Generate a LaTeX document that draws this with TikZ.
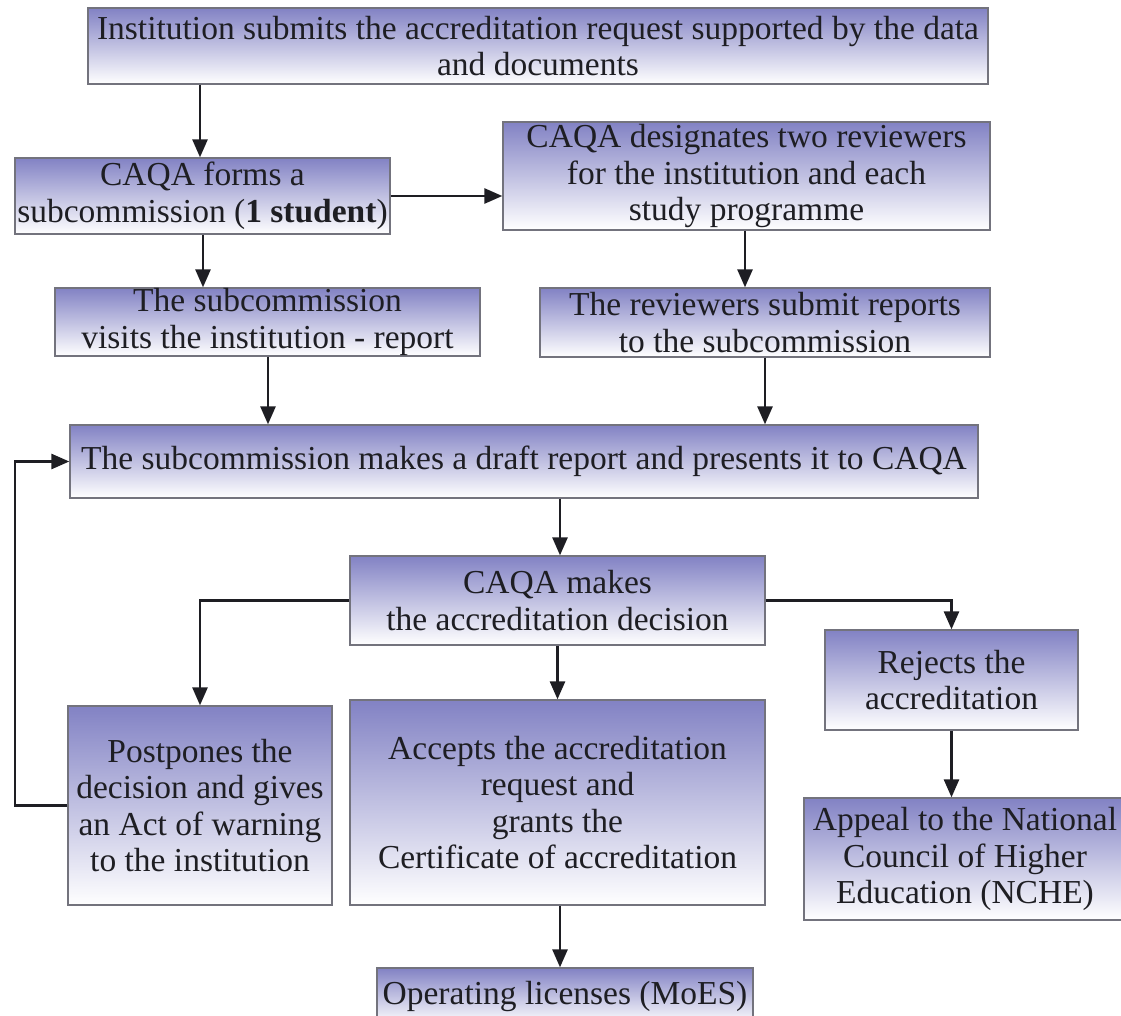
\documentclass[tikz,border=0pt]{standalone}
\usepackage{fontspec}
\setmainfont{Liberation Serif}
\usetikzlibrary{arrows.meta}
\definecolor{boxtop}{RGB}{130,130,196}
\definecolor{boxline}{RGB}{115,115,125}
\definecolor{ink}{RGB}{30,30,35}
\tikzset{
  box/.style={draw=boxline, line width=1.3pt, top color=boxtop, bottom color=white,
    inner sep=0pt, align=center, text=ink, font=\fontsize{33.5}{36.5}\selectfont},
  arr/.style={draw=ink, line width=2.7pt, -{Triangle[length=18pt,width=15pt]}}
}
\begin{document}
\begin{tikzpicture}[x=1pt,y=1pt]
\useasboundingbox (0,0) rectangle (1121,-1016);
\clip (0,0) rectangle (1121,-1016);
\node[box, minimum width=900, minimum height=76] (b1) at (538,-46)
  {Institution submits the accreditation request supported by the data\\and documents};
\node[box, minimum width=375, minimum height=76] (b2) at (202.5,-196)
  {CAQA forms a\\subcommission (\textbf{1 student})};
\node[box, minimum width=487, minimum height=108] (b3) at (746.5,-176)
  {CAQA designates two reviewers\\for the institution and each\\study programme};
\node[box, minimum width=425, minimum height=68] (b4) at (267.5,-322)
  {The subcommission\\visits the institution - report};
\node[box, minimum width=450, minimum height=69] (b5) at (765,-322.5)
  {The reviewers submit reports\\to the subcommission};
\node[box, minimum width=908, minimum height=73] (b6) at (524,-461.5)
  {The subcommission makes a draft report and presents it to CAQA};
\node[box, minimum width=415, minimum height=89] (b7) at (557.5,-600.5)
  {CAQA makes\\the accreditation decision};
\node[box, minimum width=264, minimum height=199] (b8) at (200,-805.5)
  {Postpones the\\decision and gives\\an Act of warning\\to the institution};
\node[box, minimum width=415, minimum height=205] (b9) at (557.5,-802.5)
  {Accepts the accreditation\\request and\\grants the\\Certificate of accreditation};
\node[box, minimum width=376, minimum height=56] (b10) at (565,-996)
  {Operating licenses (MoES)};
\node[box, minimum width=253, minimum height=100] (b11) at (951.5,-680)
  {Rejects the\\accreditation};
\node[box, minimum width=322, minimum height=122] (b12) at (965,-859)
  {Appeal to the National\\Council of Higher\\Education (NCHE)};
% guide coordinates
\coordinate (x200) at (200,0);
\coordinate (x203) at (203,0);
\coordinate (x745) at (745,0);
\coordinate (x268) at (268,0);
\coordinate (x765) at (765,0);
\coordinate (x560) at (560,0);
\coordinate (x15) at (15,0);
% connectors
\draw[arr] (b1.south -| x200) -- (b2.north -| x200);
\draw[arr] (b2.east) -- (b2.east -| b3.west);
\draw[arr] (b2.south -| x203) -- (b4.north -| x203);
\draw[arr] (b3.south -| x745) -- (b5.north -| x745);
\draw[arr] (b4.south -| x268) -- (b6.north -| x268);
\draw[arr] (b5.south -| x765) -- (b6.north -| x765);
\draw[arr] (b6.south -| x560) -- (b7.north -| x560);
\draw[arr] (b7.west) -- (b8.north |- b7.west) -- (b8.north);
\draw[arr] (b7.south) -- (b9.north);
\draw[arr] (b7.east) -- (b11.north |- b7.east) -- (b11.north);
\draw[arr] (b9.south -| x560) -- (b10.north -| x560);
\draw[arr] (b11.south) -- (b11.south |- b12.north);
\draw[arr] (b8.west) -- (x15 |- b8.west) -- (x15 |- b6.west) -- (b6.west);
\end{tikzpicture}
\end{document}
